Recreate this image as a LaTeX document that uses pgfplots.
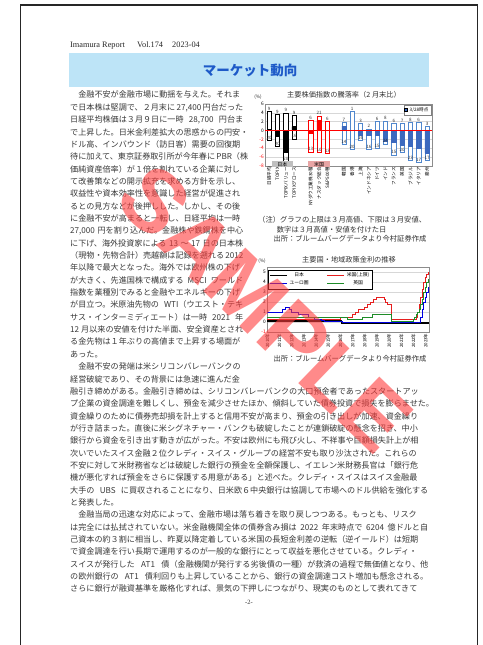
\documentclass[border=0pt]{standalone}
\usepackage{fontspec}
\usepackage{pgfplots}
\usepackage{pgfplotstable}
\pgfplotsset{compat=1.18}
\setmainfont{Noto Sans CJK JP}
\newfontfamily\jp{Noto Sans CJK JP}
\newfontfamily\ser{Liberation Serif}
\newfontfamily\wm{Liberation Sans}
\XeTeXlinebreaklocale "ja"
\XeTeXlinebreakskip=0pt plus 2pt minus 0.4pt
\newcommand\fs[1]{\fontsize{#1}{#1}\selectfont}
\newcommand\bodyfont{\jp\fs{8.1}\color{black!78}}
\newcommand\JL[3]{\node[anchor=base west,inner sep=0pt,font=\bodyfont] at (70pt,{(547-12.35*(#1-1))*1pt}) {\hbox to #2pt{#3}};}
\newcommand\JN[2]{\node[anchor=base west,inner sep=0pt,font=\bodyfont] at (70pt,{(547-12.35*(#1-1))*1pt}) {#2};}
\definecolor{titlebg}{RGB}{189,228,247}
\definecolor{titleblue}{RGB}{30,90,200}
\definecolor{bblue}{RGB}{60,105,190}
\definecolor{bbline}{RGB}{80,135,205}
\definecolor{jpgray}{RGB}{191,191,191}
\definecolor{uspink}{RGB}{232,165,165}
\definecolor{lgreen}{RGB}{30,140,40}
\definecolor{lred}{RGB}{230,30,30}
\definecolor{lblue}{RGB}{0,0,225}
\definecolor{gridc}{RGB}{215,215,215}
\definecolor{wmred}{RGB}{255,60,60}
\pgfplotsset{
  fb/.style={ybar, bar width=4.3pt, bar shift=0pt, line width=0.55pt, forget plot},
  lab/.style={nodes near coords, point meta=explicit symbolic,
    every node near coord/.append style={font=\fs{4.5}, inner sep=0.7pt, text=black!80}},
}
\pgfplotstableread{
x high low cur th tl
0 4.3 -2.2 0.3 9 20
1 3.7 -3.6 -1.3 9 20
2 4.0 -7.0 -5.0 9 20
3 3.4 -1.9 0.9 9 16
}\jpdata
\pgfplotstableread{
x high low cur th tl
5 2.3 -4.8 -0.7 6 13
6 3.3 -4.9 2.3 21 10
7 2.1 -5.1 0.0 6 13
}\usdata
\pgfplotstableread{
x high low cur th tl
9 1.8 -3.2 1.0 7 14
10 4.3 -4.3 0.0 1 20
11 1.6 -2.2 -1.0 3 16
12 0.4 -4.2 -1.1 2 16
13 2.0 -4.1 -1.0 6 15
14 2.2 -3.0 -2.4 8 24
15 1.6 -5.5 -2.6 6 15
16 1.7 -4.9 -3.3 7 20
17 1.9 -6.8 -3.5 8 23
18 1.9 -7.1 -3.9 6 17
19 0.9 -6.8 -5.1 3 17
}\otdata
\begin{document}
\begin{tikzpicture}
\path[use as bounding box, fill=white] (0pt,0pt) rectangle (482pt,645pt);
% page frame
\draw[line width=1.3pt, black!85] (20.5pt,-3pt) -- (20.5pt,640pt) -- (477.5pt,640pt) -- (477.5pt,-3pt);
% header
\node[anchor=base west, inner sep=0pt, font=\ser\fs{8.3}, text=black!85] at (70pt,597.5pt) {Imamura Report};
\node[anchor=base west, inner sep=0pt, font=\ser\fs{8.3}, text=black!85] at (137pt,597.5pt) {Vol.174};
\node[anchor=base west, inner sep=0pt, font=\ser\fs{8.3}, text=black!85] at (172pt,597.5pt) {2023-04};
% title band
\fill[titlebg] (69pt,592pt) rectangle (429pt,558pt);
\node[font=\jp\bfseries\fs{13.5}, text=titleblue] at (250pt,575pt) {マーケット動向};
% body text, left column
\JL{1}{173}{　金融不安が金融市場に動揺を与えた。それま}
\JL{2}{173}{で日本株は堅調で、２月末に 27,400 円台だった}
\JL{3}{173}{日経平均株価は３月９日に一時 28,700 円台ま}
\JL{4}{173}{で上昇した。日米金利差拡大の思惑からの円安・}
\JL{5}{173}{ドル高、インバウンド（訪日客）需要の回復期}
\JL{6}{173}{待に加えて、東京証券取引所が今年春に PBR（株}
\JL{7}{173}{価純資産倍率）が１倍を割れている企業に対し}
\JL{8}{173}{て改善策などの開示拡充を求める方針を示し、}
\JL{9}{173}{収益性や資本効率性を意識した経営が促進され}
\JL{10}{173}{るとの見方などが後押しした。しかし、その後}
\JL{11}{173}{に金融不安が高まると一転し、日経平均は一時}
\JL{12}{173}{27,000 円を割り込んだ。金融株や鉄鋼株を中心}
\JL{13}{173}{に下げ、海外投資家による 13 ～ 17 日の日本株}
\JL{14}{173}{（現物・先物合計）売越額は記録を遡れる 2012}
\JL{15}{173}{年以降で最大となった。海外では欧州株の下げ}
\JL{16}{173}{が大きく、先進国株で構成する MSCI ワールド}
\JL{17}{173}{指数を業種別でみると金融やエネルギーの下げ}
\JL{18}{173}{が目立つ。米原油先物の WTI（ウエスト・テキ}
\JL{19}{173}{サス・インターミディエート）は一時 2021 年}
\JL{20}{173}{12 月以来の安値を付けた半面、安全資産とされ}
\JL{21}{173}{る金先物は１年ぶりの高値まで上昇する場面が}
\JN{22}{あった。}
\JL{23}{173}{　金融不安の発端は米シリコンバレーバンクの}
\JL{24}{173}{経営破綻であり、その背景には急速に進んだ金}
% full width
\JL{25}{358}{融引き締めがある。金融引き締めは、シリコンバレーバンクの大口預金者であったスタートアッ}
\JL{26}{358}{プ企業の資金調達を難しくし、預金を減少させたほか、傾斜していた債券投資で損失を膨らませた。}
\JL{27}{358}{資金繰りのために債券売却損を計上すると信用不安が高まり、預金の引き出しが加速、資金繰り}
\JL{28}{358}{が行き詰まった。直後に米シグネチャー・バンクも破綻したことが連鎖破綻の懸念を招き、中小}
\JL{29}{358}{銀行から資金を引き出す動きが広がった。不安は欧州にも飛び火し、不祥事や巨額損失計上が相}
\JL{30}{358}{次いでいたスイス金融２位クレディ・スイス・グループの経営不安も取り沙汰された。これらの}
\JL{31}{358}{不安に対して米財務省などは破綻した銀行の預金を全額保護し、イエレン米財務長官は「銀行危}
\JL{32}{358}{機が悪化すれば預金をさらに保護する用意がある」と述べた。クレディ・スイスはスイス金融最}
\JL{33}{358}{大手の UBS に買収されることになり、日米欧６中央銀行は協調して市場へのドル供給を強化する}
\JN{34}{と発表した。}
\JL{35}{358}{　金融当局の迅速な対応によって、金融市場は落ち着きを取り戻しつつある。もっとも、リスク}
\JL{36}{358}{は完全には払拭されていない。米金融機関全体の債券含み損は 2022 年末時点で 6204 億ドルと自}
\JL{37}{358}{己資本の約３割に相当し、昨夏以降定着している米国の長短金利差の逆転（逆イールド）は短期}
\JL{38}{358}{で資金調達を行い長期で運用するのが一般的な銀行にとって収益を悪化させている。クレディ・}
\JL{39}{358}{スイスが発行した AT1 債（金融機関が発行する劣後債の一種）が救済の過程で無価値となり、他}
\JL{40}{358}{の欧州銀行の AT1 債利回りも上昇していることから、銀行の資金調達コスト増加も懸念される。}
\JL{41}{358}{さらに銀行が融資基準を厳格化すれば、景気の下押しにつながり、現実のものとして表れてきて}
\node[font=\ser\fs{6.5}, text=black!80] at (249pt,43pt) {-2-};
% ---------- chart 1 ----------
\node[font=\jp\fs{7.2}, text=black!80] at (344pt,550pt) {主要株価指数の騰落率（2 月末比）};
\node[font=\jp\fs{4.6}, text=black!85] at (258pt,548pt) {(\%)};
\begin{axis}[
  at={(265pt,479pt)}, anchor=south west, scale only axis, width=167pt, height=62pt,
  xmin=-0.5, xmax=19.6, ymin=-8, ymax=6,
  ytick={-8,-6,...,6},
  yticklabels={\textcolor{red}{-8},\textcolor{red}{-6},\textcolor{red}{-4},\textcolor{red}{-2},0,2,4,6},
  xtick={0,1,2,3,5,6,7,9,10,11,12,13,14,15,16,17,18,19},
  xticklabels={日経平均,TOPIX,TOPIXバリュー,TOPIXグロース,NYダウ工業株30種,ナスダック総合,S\&P500種,韓国,香港,上海,インドネシア,ドイツ,インド,フランス,英国,ブラジル,イタリア,豪州},
  xticklabel style={rotate=90, anchor=east, font=\jp\fs{4.6}, inner sep=1pt},
  yticklabel style={font=\jp\fs{4.8}, inner sep=1pt},
  major tick length=0pt,
  ymajorgrids, major grid style={gridc, line width=0.5pt},
  axis line style={black!45, line width=0.5pt},
  clip=false,
  legend style={at={(0.995,0.99)}, anchor=north east, font=\jp\fs{4.6}, draw=black!50, inner sep=0.6pt, line width=0.4pt},
  legend image code/.code={\fill[#1] (0pt,-1.5pt) rectangle (3pt,1.5pt);},
]
\addlegendimage{fill=bblue}
\addlegendentry{3/28時点}
\addplot[fb, lab, draw=black, fill=white] table[x=x, y=high, meta=th] {\jpdata};
\addplot[fb, lab, draw=black, fill=white] table[x=x, y=low, meta=tl] {\jpdata};
\addplot[fb, draw=black, fill=black] table[x=x, y=cur] {\jpdata};
\addplot[fb, lab, draw=red, fill=white] table[x=x, y=high, meta=th] {\usdata};
\addplot[fb, lab, draw=red, fill=white] table[x=x, y=low, meta=tl] {\usdata};
\addplot[fb, draw=red, fill=red] table[x=x, y=cur] {\usdata};
\addplot[fb, lab, draw=bbline, fill=white] table[x=x, y=high, meta=th] {\otdata};
\addplot[fb, lab, draw=bbline, fill=white] table[x=x, y=low, meta=tl] {\otdata};
\addplot[fb, draw=bblue, fill=bblue] table[x=x, y=cur] {\otdata};
\addplot[red, line width=0.9pt, forget plot] coordinates {(-0.5,0) (19.6,0)};
\node[fill=jpgray, font=\jp\fs{5}, inner sep=0pt, minimum width=21pt, minimum height=6.5pt] at (axis cs:1.6,-7.6) {日本};
\node[fill=uspink, font=\jp\fs{5}, inner sep=0pt, minimum width=22pt, minimum height=6.5pt] at (axis cs:6,-7.6) {米国};
\end{axis}
\node[anchor=base west, inner sep=0pt, font=\jp\fs{7.3}, text=black!80] at (258pt,422pt) {（注）グラフの上限は３月高値、下限は３月安値、};
\node[anchor=base west, inner sep=0pt, font=\jp\fs{7.3}, text=black!80] at (276.7pt,412.7pt) {数字は３月高値・安値を付けた日};
\node[anchor=base west, inner sep=0pt, font=\jp\fs{7.3}, text=black!80] at (273.3pt,403.4pt) {出所：ブルームバーグデータより今村証券作成};
% ---------- chart 2 ----------
\node[font=\jp\fs{7.2}, text=black!80] at (349pt,385.7pt) {主要国・地域政策金利の推移};
\node[font=\jp\fs{4.6}, text=black!85] at (262pt,384.3pt) {(\%)};
\begin{axis}[
  at={(267pt,313pt)}, anchor=south west, scale only axis, width=162pt, height=65pt,
  xmin=2009.97, xmax=2023.27, ymin=-1, ymax=5.5,
  ytick={-1,0,...,5},
  yticklabels={\textcolor{red}{-1},0,1,2,3,4,5},
  xtick={2010,2011,...,2023},
  xticklabels={2010年,2011年,2012年,2013年,2014年,2015年,2016年,2017年,2018年,2019年,2020年,2021年,2022年,2023年},
  xticklabel style={rotate=90, anchor=east, font=\jp\fs{4.4}, inner sep=1.5pt},
  yticklabel style={font=\jp\fs{4.8}, inner sep=1pt},
  major tick length=0pt,
  ymajorgrids, major grid style={gridc, line width=0.5pt},
  axis line style={black!45, line width=0.5pt},
  legend style={at={(0.008,0.96)}, anchor=north west, font=\jp\fs{4.8}, draw=black, line width=0.8pt, inner sep=0.8pt, row sep=-1.5pt,
    /tikz/every even column/.append style={column sep=16pt}},
  legend columns=2,
  legend image code/.code={\draw[#1, line width=1.1pt] (0pt,0pt) -- (17pt,0pt);},
  const plot, every axis plot/.append style={line width=0.9pt, mark=none},
]
\addplot[black, line width=1.3pt] coordinates {(2009.97,0.1) (2016.08,-0.1) (2023.27,-0.1)};
\addlegendentry{日本}
\addplot[lred] coordinates {(2009.97,0.25) (2015.96,0.5) (2016.96,0.75) (2017.21,1.0) (2017.46,1.25) (2017.96,1.5) (2018.21,1.75) (2018.46,2.0) (2018.73,2.25) (2018.97,2.5) (2019.58,2.25) (2019.71,2.0) (2019.83,1.75) (2020.17,1.25) (2020.21,0.25) (2022.21,0.5) (2022.34,1.0) (2022.46,1.75) (2022.57,2.5) (2022.72,3.25) (2022.84,4.0) (2022.96,4.5) (2023.09,4.75) (2023.22,5.0) (2023.27,5.0)};
\addlegendentry{米国(上限)}
\addplot[lblue] coordinates {(2009.97,1.0) (2011.26,1.25) (2011.52,1.5) (2011.84,1.25) (2011.94,1.0) (2012.52,0.75) (2013.34,0.5) (2013.86,0.25) (2014.44,0.15) (2014.69,0.05) (2016.18,0.0) (2022.56,0.5) (2022.70,1.25) (2022.82,2.0) (2022.96,2.5) (2023.09,3.0) (2023.21,3.5) (2023.27,3.5)};
\addlegendentry{ユーロ圏}
\addplot[lgreen] coordinates {(2009.97,0.5) (2016.6,0.25) (2017.84,0.5) (2018.59,0.75) (2020.18,0.25) (2020.21,0.1) (2021.96,0.25) (2022.09,0.5) (2022.21,0.75) (2022.34,1.0) (2022.46,1.25) (2022.59,1.75) (2022.72,2.25) (2022.84,3.0) (2022.96,3.5) (2023.09,4.0) (2023.22,4.25) (2023.27,4.25)};
\addlegendentry{英国}
\end{axis}
\node[anchor=base west, inner sep=0pt, font=\jp\fs{7.3}, text=black!80] at (273.3pt,283.5pt) {出所：ブルームバーグデータより今村証券作成};
% watermark
\node[rotate=-44, text=wmred, text opacity=0.6, inner sep=0pt, font=\wm\bfseries\fs{88}] at (265pt,337pt) {SAMPLE};
\end{tikzpicture}
\end{document}
